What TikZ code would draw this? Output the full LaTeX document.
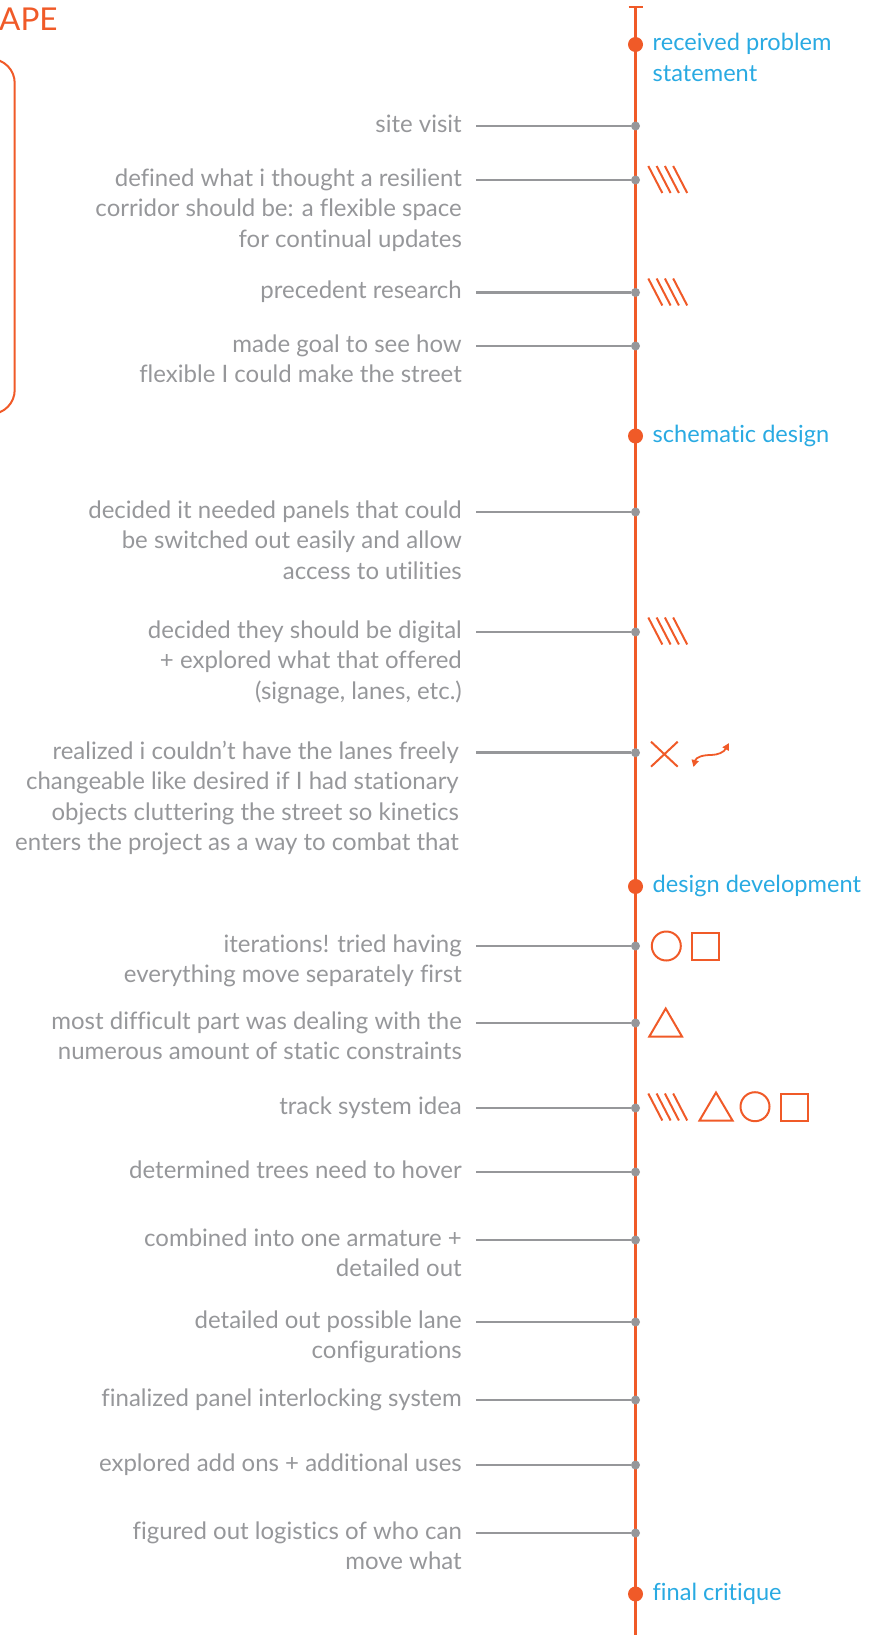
\documentclass[tikz,border=0pt]{standalone}
\usepackage{fontspec}
\setmainfont{Lato}[Ligatures={NoCommon}]
\usepackage{tikz}
\usetikzlibrary{arrows.meta}
\definecolor{tlorange}{RGB}{240,90,40}
\definecolor{tlblue}{RGB}{41,170,226}
\definecolor{tlgray}{RGB}{150,151,154}
\tikzset{
  evtext/.style={anchor=north east,align=right,inner sep=0pt,yshift=15.25pt,text=tlgray,font=\fontsize{24}{30.5}\selectfont},
  mstext/.style={anchor=north west,align=left,inner sep=0pt,yshift=15.25pt,text=tlblue,font=\fontsize{23.6}{30.5}\selectfont},
  evdot/.style={circle,fill=tlgray,inner sep=0pt,minimum size=9pt},
  msdot/.style={circle,fill=tlorange,inner sep=0pt,minimum size=15pt},
  evline/.style={draw=tlgray,line width=2.5pt},
  sym/.style={draw=tlorange,line width=2pt},
}

\begin{document}
\begin{tikzpicture}[x=1pt,y=-1pt]
        \useasboundingbox (0,0) rectangle (872,1635);

        \node[anchor=base west,inner sep=0pt,text=tlorange,font=\fontsize{31.5}{31.5}\selectfont] (ape) at (-1,30.7) {APE};
        \draw[tlorange,line width=2pt,rounded corners=24pt] (-40,59) -- (14.7,59) -- (14.7,414) -- (-40,414);

        \coordinate (top) at (635.5,6.7);
        \coordinate (bot) at (635.5,1645);
        \coordinate (tickl) at (628.5,6.7);
        \coordinate (tickr) at (642.5,6.7);
        \draw[tlorange,line width=2.2pt] (top) -- (bot);
        \draw[tlorange,line width=2.2pt] (tickl) -- (tickr);

        \node[msdot] (m1) at (635.5,44.5) {};
        \node[msdot] (m2) at (635.5,436) {};
        \node[msdot] (m3) at (635.5,886.5) {};
        \node[msdot] (m4) at (635.5,1594) {};
        \node[mstext] (ml1) at (652.5,44.5) {\strut received problem\\statement};
        \node[mstext] (ml2) at (652.5,436) {\strut schematic design};
        \node[mstext] (ml3) at (652.5,886.5) {\strut design development};
        \node[mstext] (ml4) at (652.5,1594) {\strut final critique};

        \node[evdot] (d1) at (635.5,126) {};
        \node[evdot] (d2) at (635.5,180) {};
        \node[evdot] (d3) at (635.5,292.5) {};
        \node[evdot] (d4) at (635.5,346) {};
        \node[evdot] (d5) at (635.5,512) {};
        \node[evdot] (d6) at (635.5,632) {};
        \node[evdot] (d7) at (635.5,752.7) {};
        \node[evdot] (d8) at (635.5,946) {};
        \node[evdot] (d9) at (635.5,1023) {};
        \node[evdot] (d10) at (635.5,1108) {};
        \node[evdot] (d11) at (635.5,1172) {};
        \node[evdot] (d12) at (635.5,1240) {};
        \node[evdot] (d13) at (635.5,1322) {};
        \node[evdot] (d14) at (635.5,1400) {};
        \node[evdot] (d15) at (635.5,1465) {};
        \node[evdot] (d16) at (635.5,1533) {};

        \coordinate (s1) at (476,126);
        \coordinate (s2) at (476,180);
        \coordinate (s3) at (476,292.5);
        \coordinate (s4) at (476,346);
        \coordinate (s5) at (476,512);
        \coordinate (s6) at (476,632);
        \coordinate (s7) at (476,752.7);
        \coordinate (s8) at (476,946);
        \coordinate (s9) at (476,1023);
        \coordinate (s10) at (476,1108);
        \coordinate (s11) at (476,1172);
        \coordinate (s12) at (476,1240);
        \coordinate (s13) at (476,1322);
        \coordinate (s14) at (476,1400);
        \coordinate (s15) at (476,1465);
        \coordinate (s16) at (476,1533);

        \draw[evline] (s1) -- (d1);
        \draw[evline] (s2) -- (d2);
        \draw[evline] (s3) -- (d3);
        \draw[evline] (s4) -- (d4);
        \draw[evline] (s5) -- (d5);
        \draw[evline] (s6) -- (d6);
        \draw[evline] (s7) -- (d7);
        \draw[evline] (s8) -- (d8);
        \draw[evline] (s9) -- (d9);
        \draw[evline] (s10) -- (d10);
        \draw[evline] (s11) -- (d11);
        \draw[evline] (s12) -- (d12);
        \draw[evline] (s13) -- (d13);
        \draw[evline] (s14) -- (d14);
        \draw[evline] (s15) -- (d15);
        \draw[evline] (s16) -- (d16);

        \node[evtext] (t1) at (462,126) {\strut site visit};
        \node[evtext] (t2) at (462,180) {\strut defined what i thought a resilient\\corridor should be: a flexible space\\for continual updates};
        \node[evtext] (t3) at (462,292.5) {\strut precedent research};
        \node[evtext] (t4) at (462,346) {\strut made goal to see how\\flexible I could make the street};
        \node[evtext] (t5) at (462,512) {\strut decided it needed panels that could\\be switched out easily and allow\\access to utilities};
        \node[evtext] (t6) at (462,632) {\strut decided they should be digital\\+ explored what that offered\\(signage, lanes, etc.)};
        \node[evtext] (t7) at (459,752.7) {\strut realized i couldn’t have the lanes freely\\changeable like desired if I had stationary\\objects cluttering the street so kinetics\\enters the project as a way to combat that};
        \node[evtext] (t8) at (462,946) {\strut iterations! tried having\\everything move separately first};
        \node[evtext] (t9) at (462,1023) {\strut most difficult part was dealing with the\\numerous amount of static constraints};
        \node[evtext] (t10) at (462,1108) {\strut track system idea};
        \node[evtext] (t11) at (462,1172) {\strut determined trees need to hover};
        \node[evtext] (t12) at (462,1240) {\strut combined into one armature +\\detailed out};
        \node[evtext] (t13) at (462,1322) {\strut detailed out possible lane\\configurations};
        \node[evtext] (t14) at (462,1400) {\strut finalized panel interlocking system};
        \node[evtext] (t15) at (462,1465) {\strut explored add ons + additional uses};
        \node[evtext] (t16) at (462,1533) {\strut figured out logistics of who can\\move what};

        \draw[sym] (648.3,166) -- ++(14,27) (656.6,166) -- ++(14,27) (664.9,166) -- ++(14,27) (673.2,166) -- ++(14,27);
        \draw[sym] (648.3,278.5) -- ++(14,27) (656.6,278.5) -- ++(14,27) (664.9,278.5) -- ++(14,27) (673.2,278.5) -- ++(14,27);
        \draw[sym] (648.3,617.5) -- ++(14,27) (656.6,617.5) -- ++(14,27) (664.9,617.5) -- ++(14,27) (673.2,617.5) -- ++(14,27);
        \draw[sym] (651,741.7) -- (677.7,766.7) (651,766.7) -- (677.7,741.7);
        \draw[sym,line width=1.8pt,{Triangle[length=7pt,width=7pt]}-{Triangle[length=7pt,width=7pt]}] (693.5,767) .. controls (696,757) and (703,755) .. (711,755) .. controls (718,755) and (724,752) .. (729,743);
        \draw[sym] (666.3,946) circle[radius=14.5pt];
        \draw[sym] (692,932.5) rectangle (719,959.5);
        \draw[sym] (665.7,1008.5) -- (682,1036.5) -- (649.3,1036.5) -- cycle;
        \draw[sym] (648.3,1093.5) -- ++(14,27) (656.6,1093.5) -- ++(14,27) (664.9,1093.5) -- ++(14,27) (673.2,1093.5) -- ++(14,27);
        \draw[sym] (716,1092.5) -- (732.5,1120.5) -- (699.5,1120.5) -- cycle;
        \draw[sym] (755,1106.7) circle[radius=14.5pt];
        \draw[sym] (781,1093.5) rectangle (808,1120.5);
\end{tikzpicture}
\end{document}
